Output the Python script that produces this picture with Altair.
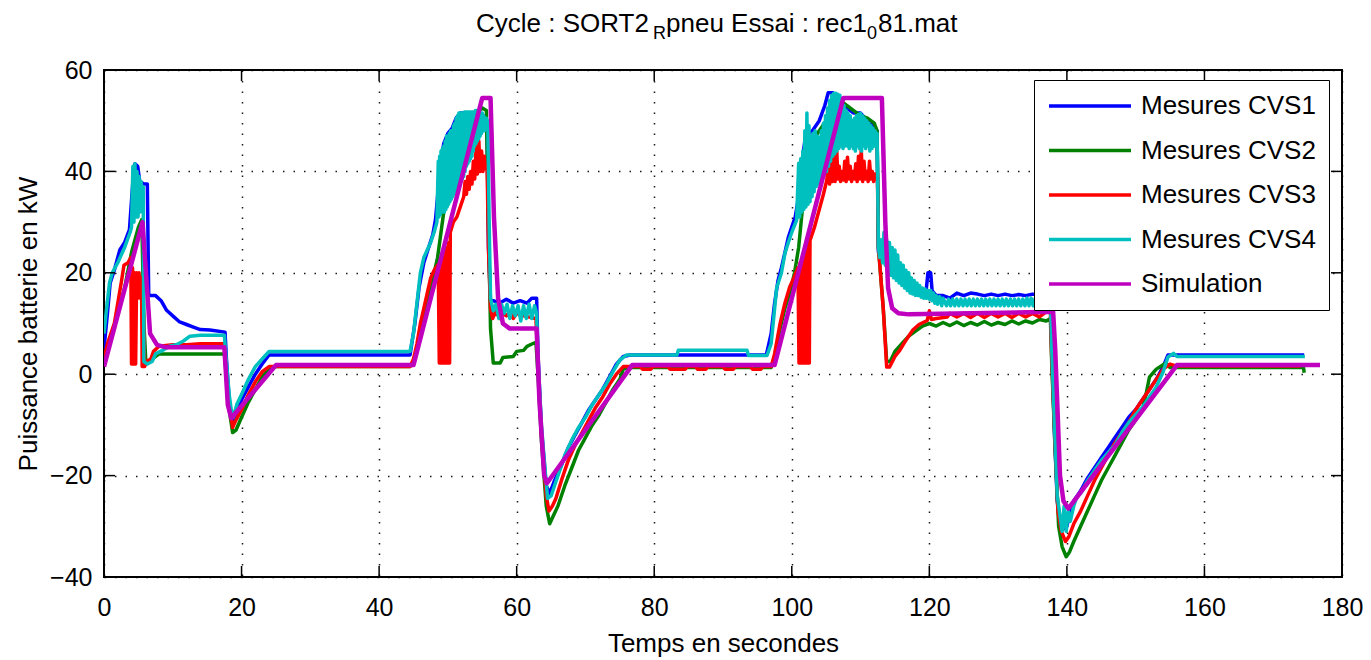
import altair as alt
import pandas as pd

FONT = "Liberation Sans"
W, H = 1238, 507

series_names = ["Mesures CVS1", "Mesures CVS2", "Mesures CVS3", "Mesures CVS4", "Simulation"]
series_colors = ["#0000FF", "#008000", "#FF0000", "#00BFBF", "#BF00BF"]
series_widths = [3.5, 3.5, 3.5, 3.5, 4.5]

x_ticks = [0, 20, 40, 60, 80, 100, 120, 140, 160, 180]
y_ticks = [-40, -20, 0, 20, 40, 60]

cvs1 = [
    (0.0, 5.0), (0.5, 12.0), (0.9, 18.0), (1.5, 20.5), (2.3, 24.5), (3.0, 26.0), (3.7, 28.5), (4.2, 38.0), (4.5, 41.5),
    (4.9, 41.0), (5.2, 38.0), (5.8, 37.5), (6.3, 37.5), (6.5, 15.5), (7.5, 15.5), (8.3, 14.5), (9.1, 12.6), (10.0, 11.5),
    (11.0, 10.3), (12.0, 9.8), (13.0, 9.3), (14.0, 8.8), (15.4, 8.7), (17.6, 8.3),
    (17.8, 3.0), (18.2, -5.0), (18.6, -9.5), (19.0, -8.5), (20.0, -5.0), (21.0, -2.5), (22.0, 0.0), (23.0, 2.0), (24.0, 3.8), (44.5, 3.8),
    (45.2, 10.0), (45.8, 17.0), (46.5, 22.0), (47.2, 25.0), (47.8, 27.5), (48.2, 30.5), (48.5, 35.0), (48.8, 41.0), (49.4, 45.5),
    (50.0, 47.5), (50.6, 48.5), (51.2, 50.5), (51.8, 51.5), (52.5, 51.5), (53.3, 51.5), (54.0, 51.0), (54.6, 51.5), (55.2, 51.0), (55.7, 48.0),
    (55.9, 25.0), (56.2, 14.5), (56.6, 14.5), (57.5, 14.0), (58.5, 14.8), (59.5, 14.0), (60.5, 14.5), (61.5, 14.0), (62.2, 15.0), (62.9, 15.0),
    (63.1, 4.0), (63.6, -11.0), (64.3, -22.0), (64.8, -23.5), (65.5, -21.0), (66.5, -18.0), (67.5, -14.5), (68.5, -12.0), (69.5, -9.5),
    (70.5, -7.0), (71.5, -5.0), (72.5, -3.0), (73.5, -0.5), (74.5, 2.0), (75.5, 3.5), (76.5, 3.8), (96.3, 3.8),
    (97.0, 8.0), (97.5, 14.0), (98.0, 18.5), (98.5, 21.0), (99.0, 24.0), (99.5, 27.0), (100.0, 29.0), (100.5, 31.0), (101.0, 35.0),
    (101.5, 42.0), (102.0, 47.0), (103.0, 48.0), (104.0, 50.0), (104.8, 53.0), (105.3, 55.5), (106.0, 55.5), (106.5, 54.0), (107.0, 53.0),
    (108.0, 52.5), (109.0, 51.5), (110.0, 51.5), (111.0, 50.0), (112.0, 49.0), (112.4, 48.0),
    (112.6, 24.0), (113.0, 26.0), (113.5, 27.0), (114.0, 24.0), (115.0, 22.0), (116.0, 20.0), (117.0, 18.5), (118.0, 17.5), (119.0, 16.0),
    (119.5, 16.0), (119.8, 20.0), (120.2, 20.0), (120.4, 16.5), (121.0, 15.5), (122.0, 15.5), (123.0, 15.0), (124.0, 16.0), (125.0, 15.5),
    (126.0, 16.0), (127.0, 15.8), (128.0, 15.5), (129.0, 15.8), (130.0, 15.5), (131.0, 15.8), (132.0, 15.5), (133.0, 15.7), (134.0, 15.5),
    (135.0, 15.8), (136.0, 15.5), (137.0, 15.8), (137.6, 16.0),
    (137.8, 5.0), (138.2, -12.0), (138.6, -25.0), (139.0, -29.0), (139.5, -30.5), (140.0, -30.0), (140.5, -27.0), (141.0, -25.0),
    (142.0, -23.0), (143.0, -20.5), (144.0, -18.5), (145.0, -16.5), (146.0, -14.5), (147.0, -12.5), (148.0, -10.5), (149.0, -8.5),
    (150.0, -7.0), (151.0, -5.0), (152.0, -3.0), (153.0, -1.0), (154.0, 1.5), (154.7, 3.8), (174.5, 3.8),
]

cvs2 = [
    (0.0, 3.0), (0.5, 5.0), (1.0, 7.5), (2.0, 12.0), (3.0, 17.0), (4.0, 24.0), (5.0, 29.0), (5.5, 30.5), (5.8, 10.0), (6.1, 2.0),
    (7.0, 3.0), (8.0, 4.0), (17.5, 4.0),
    (17.7, 1.0), (18.2, -7.0), (18.7, -11.5), (19.2, -11.0), (20.0, -8.5), (21.0, -5.5), (22.0, -3.0), (23.0, -0.5), (24.0, 1.0),
    (25.0, 1.5), (44.5, 1.5),
    (45.0, 2.5), (45.5, 5.0), (46.0, 8.5), (46.5, 11.5), (47.0, 14.5), (47.5, 17.5), (48.0, 20.0), (48.5, 23.0), (49.0, 28.0),
    (49.5, 33.0), (50.0, 38.0), (50.5, 42.0), (51.0, 45.0), (51.5, 47.0), (52.0, 49.0), (52.5, 50.0), (53.0, 51.0), (54.0, 51.5),
    (55.0, 52.5), (55.6, 52.0),
    (55.9, 30.0), (56.2, 9.0), (56.6, 2.2), (57.6, 2.2), (58.0, 3.3), (59.5, 3.5), (60.0, 4.5), (61.0, 4.7), (61.5, 5.5), (62.3, 6.0), (62.8, 6.3),
    (63.1, 0.0), (63.6, -13.0), (64.3, -26.0), (64.8, -29.5), (65.3, -28.0), (66.0, -26.0), (67.0, -22.0), (68.0, -18.5), (69.0, -15.0),
    (70.0, -12.5), (71.0, -10.0), (72.0, -8.0), (73.0, -5.5), (74.0, -3.0), (75.0, -1.0), (75.5, 1.0), (76.5, 1.3), (97.0, 1.3),
    (97.5, 3.5), (98.3, 9.0), (99.0, 13.0), (99.7, 16.0), (100.4, 20.0), (101.0, 25.0), (101.5, 32.0), (102.0, 40.0), (102.5, 44.0),
    (103.0, 45.0), (103.5, 47.0), (104.0, 48.0), (105.0, 50.0), (106.0, 52.0), (107.0, 54.0), (108.0, 53.0), (109.0, 52.0),
    (110.0, 51.0), (111.0, 50.5), (112.0, 49.5), (112.4, 48.0),
    (112.6, 25.0), (113.3, 13.0), (113.8, 2.5), (114.3, 2.5), (115.0, 4.5), (116.0, 6.0), (117.0, 7.5), (118.0, 8.5), (119.0, 9.5),
    (120.0, 10.0), (121.0, 9.5), (122.0, 10.2), (123.0, 9.6), (124.0, 10.3), (125.0, 9.6), (126.0, 10.2), (127.0, 9.7), (128.0, 10.4),
    (129.0, 9.7), (130.0, 10.2), (131.0, 9.8), (132.0, 10.5), (133.0, 9.9), (134.0, 10.5), (135.0, 10.1), (136.0, 10.8), (137.0, 10.5), (137.6, 11.0),
    (137.8, 2.0), (138.3, -15.0), (138.8, -30.0), (139.3, -34.0), (139.9, -36.0), (140.4, -35.0), (141.0, -33.0), (142.0, -30.0),
    (143.0, -27.0), (144.0, -24.0), (145.0, -21.0), (146.0, -18.5), (147.0, -16.0), (148.0, -13.5), (149.0, -11.0), (150.0, -9.0),
    (151.0, -7.0), (151.5, -4.0), (152.0, -0.6), (153.0, 1.0), (154.4, 2.2), (155.0, 1.3), (174.4, 1.3), (174.5, 0.3),
]

cvs3 = [
    (0.0, 3.0), (0.5, 6.0), (1.0, 8.0), (1.5, 10.0), (2.0, 14.0), (2.5, 18.0), (2.9, 21.5), (3.5, 22.0), (3.9, 23.0),
    (4.0, 2.0), (4.15, 21.0), (4.3, 2.0), (4.45, 20.0), (4.6, 2.0), (4.75, 20.0), (4.9, 15.0), (5.1, 20.0), (5.3, 15.0), (5.45, 19.0),
    (5.55, 1.5), (5.75, 12.0), (5.9, 1.5),
    (6.2, 2.5), (6.8, 3.0), (7.2, 4.5), (8.0, 5.5), (10.0, 5.8), (12.0, 5.8), (14.0, 6.0), (17.5, 6.0),
    (17.7, 2.0), (18.2, -6.0), (18.7, -10.5), (19.2, -9.0), (20.0, -7.0), (21.0, -4.0), (22.0, -1.5), (23.0, 0.5), (24.0, 1.5), (44.5, 1.5),
    (45.0, 3.0), (45.5, 6.0), (46.0, 10.0), (46.5, 13.0), (47.0, 16.0), (47.5, 19.0), (48.0, 20.5), (48.5, 21.5),
    (48.6, 21.0), (48.75, 2.2), (48.9, 22.0), (49.05, 2.2), (49.2, 23.0), (49.35, 2.2), (49.5, 24.0), (49.65, 2.2), (49.8, 25.0),
    (49.95, 2.2), (50.1, 26.0), (50.25, 2.2),
    (50.35, 28.0), (50.8, 30.0), (51.3, 31.0), (51.8, 33.0), (52.3, 35.0),
    (52.5, 38.0), (52.7, 35.5), (52.9, 39.0), (53.1, 36.5), (53.3, 40.0), (53.5, 37.5), (53.7, 42.0), (53.9, 38.5), (54.1, 45.0),
    (54.3, 39.5), (54.5, 46.0), (54.7, 40.0), (54.9, 44.0), (55.1, 40.0), (55.3, 43.0), (55.5, 40.5), (55.7, 41.0),
    (55.9, 25.0), (56.2, 13.0), (56.5, 11.0), (57.0, 12.5), (57.5, 11.0), (58.0, 12.0), (58.5, 11.5), (59.0, 12.3), (59.5, 11.0),
    (60.0, 12.0), (61.0, 11.5), (62.0, 11.2), (62.8, 11.0),
    (63.1, 2.0), (63.6, -12.0), (64.3, -24.0), (64.7, -27.0), (65.2, -26.0), (65.7, -24.5), (66.5, -21.0), (67.5, -17.0), (68.5, -14.0),
    (69.5, -11.5), (70.5, -9.0), (71.5, -6.5), (72.5, -4.5), (73.5, -2.0), (74.5, 0.0), (75.5, 1.5),
    (78.0, 1.5), (78.3, 1.0), (79.5, 1.0), (79.8, 1.5), (82.0, 1.5), (82.3, 1.0), (84.5, 1.0), (84.8, 1.5), (86.0, 1.5), (86.3, 1.0),
    (87.5, 1.0), (87.8, 1.5), (90.0, 1.5), (90.3, 1.0), (91.5, 1.0), (91.8, 1.5), (94.0, 1.5), (94.3, 1.0), (95.5, 1.0), (95.8, 1.5), (97.0, 1.5),
    (97.5, 4.0), (98.3, 10.0), (99.0, 14.0), (99.7, 17.2), (100.3, 19.0),
    (100.9, 21.0), (101.05, 2.2), (101.2, 22.0), (101.35, 2.2), (101.5, 23.0), (101.65, 2.2), (101.8, 24.0), (101.95, 2.2),
    (102.1, 25.0), (102.25, 2.2), (102.4, 26.0), (102.55, 2.2),
    (102.65, 26.4), (103.3, 29.0), (104.1, 33.0), (104.6, 35.5), (105.1, 38.3),
    (105.3, 42.0), (105.5, 37.5), (105.7, 43.0), (105.9, 38.0), (106.1, 44.5), (106.3, 38.0), (106.5, 45.6), (106.7, 38.5),
    (106.9, 41.0), (107.1, 38.0), (107.3, 40.0), (107.5, 38.3), (107.7, 42.0), (107.9, 38.0), (108.1, 42.8), (108.3, 38.5),
    (108.5, 41.0), (108.7, 38.0), (108.9, 40.0), (109.1, 38.5), (109.3, 41.5), (109.5, 38.0), (109.7, 43.0), (109.9, 38.5),
    (110.1, 44.2), (110.3, 38.0), (110.5, 42.0), (110.7, 38.5), (110.9, 40.0), (111.1, 38.0), (111.3, 42.0), (111.5, 38.5),
    (111.7, 40.0), (111.9, 38.0), (112.1, 39.5), (112.3, 38.5), (112.45, 39.5),
    (112.6, 25.0), (113.3, 13.0), (113.8, 1.4), (114.2, 1.4), (115.0, 3.5), (115.7, 4.7), (116.5, 6.5), (117.6, 8.7), (118.5, 9.8),
    (119.7, 10.6), (120.0, 12.5), (120.3, 10.8), (121.0, 11.0), (122.6, 11.3), (123.0, 12.0), (124.0, 11.3), (125.0, 12.0),
    (126.0, 11.2), (127.0, 12.0), (128.0, 11.2), (129.0, 12.0), (130.0, 11.3), (131.0, 12.0), (132.0, 11.2), (133.0, 12.0),
    (134.0, 11.3), (135.0, 12.0), (136.0, 11.3), (137.0, 12.3), (137.6, 12.3),
    (137.8, 3.0), (138.3, -14.0), (138.7, -27.0), (139.2, -31.0), (139.8, -33.0), (140.3, -32.0), (141.0, -29.5), (142.0, -27.0),
    (143.0, -24.0), (144.0, -21.0), (145.0, -18.5), (146.0, -16.0), (147.0, -13.5), (148.0, -11.5), (149.0, -9.5), (150.0, -7.0),
    (151.0, -5.0), (152.0, -3.0), (153.0, -1.0), (154.0, 1.0), (155.0, 2.0), (156.0, 1.6), (174.0, 1.6),
]

cvs4 = [
    (0.0, 8.0), (0.3, 12.0), (0.8, 18.0), (1.2, 20.0), (2.0, 22.0), (3.0, 25.0), (3.8, 28.0),
    (4.0, 29.0), (4.2, 41.0), (4.35, 30.0), (4.5, 41.5), (4.65, 31.0), (4.8, 40.0), (4.95, 31.0), (5.1, 39.0), (5.25, 32.0),
    (5.4, 38.0), (5.55, 33.0), (5.7, 37.0),
    (5.8, 2.5), (6.3, 2.0), (7.0, 2.5), (7.5, 4.0), (8.5, 4.7), (9.5, 5.5), (10.5, 5.8), (11.5, 6.5), (12.5, 7.5), (14.0, 7.7), (17.5, 7.7),
    (17.7, 4.0), (18.2, -4.0), (18.5, -7.0), (18.8, -8.5), (19.3, -6.0), (20.0, -4.0), (21.0, -1.0), (22.0, 1.5), (23.0, 3.0),
    (24.0, 4.5), (44.5, 4.5),
    (45.0, 8.0), (45.5, 14.0), (46.0, 20.0), (46.5, 23.0), (47.0, 24.5), (47.5, 26.0), (48.0, 28.0), (48.4, 30.0),
    (48.6, 42.0), (48.7, 31.0), (48.8, 43.0), (48.9, 31.5), (49.0, 44.0), (49.1, 32.0), (49.2, 44.5), (49.3, 32.0), (49.4, 45.0),
    (49.5, 32.0), (49.6, 46.0), (49.7, 32.5), (49.8, 47.0), (49.9, 33.0), (50.0, 47.0), (50.1, 33.5), (50.2, 47.5),
    (50.3, 34.0), (50.4, 48.0), (50.5, 34.5), (50.6, 48.0), (50.7, 35.0), (50.8, 49.0), (50.9, 35.5), (51.0, 49.5),
    (51.1, 36.0), (51.2, 50.5), (51.3, 36.5), (51.4, 51.0), (51.5, 37.0), (51.6, 51.5), (51.7, 37.5), (51.8, 51.5),
    (51.9, 38.0), (52.0, 51.5), (52.1, 38.5), (52.2, 51.5), (52.3, 39.0), (52.4, 51.7), (52.5, 40.0), (52.6, 51.7),
    (52.7, 41.0), (52.8, 51.7), (52.9, 41.5), (53.0, 51.7), (53.1, 42.0), (53.2, 51.7), (53.3, 42.5), (53.4, 51.7),
    (53.5, 43.0), (53.6, 51.7), (53.7, 44.0), (53.8, 51.7), (53.9, 45.0), (54.0, 52.0), (54.1, 45.5), (54.2, 52.0),
    (54.3, 46.0), (54.4, 51.8), (54.5, 46.5), (54.6, 51.5), (54.7, 47.0), (54.8, 51.5), (54.9, 47.5), (55.0, 51.5),
    (55.1, 48.0), (55.2, 51.0), (55.3, 48.0), (55.4, 50.5), (55.5, 48.5), (55.6, 50.5), (55.7, 49.0), (55.8, 50.0),
    (56.0, 30.0), (56.2, 15.0), (56.6, 12.5), (57.0, 13.8), (57.4, 11.0), (57.8, 13.8), (58.2, 12.0), (58.6, 13.8), (59.0, 11.0),
    (59.4, 13.5), (59.8, 11.5), (60.2, 13.5), (60.6, 10.5), (61.0, 13.5), (61.4, 11.0), (61.8, 13.8), (62.2, 11.0), (62.6, 13.5), (62.9, 12.0),
    (63.1, 3.0), (63.6, -10.0), (64.2, -20.0), (64.5, -24.5), (65.0, -24.0), (65.5, -22.0), (66.0, -20.0), (67.0, -16.0), (68.0, -13.0),
    (69.0, -10.5), (70.0, -8.5), (71.0, -6.0), (72.0, -4.0), (73.0, -2.0), (74.0, 0.5), (75.0, 2.8), (76.0, 3.8), (83.3, 3.8),
    (83.5, 4.7), (93.5, 4.7), (93.7, 3.7), (96.4, 3.7),
    (97.0, 6.0), (97.8, 17.0), (98.5, 20.0), (99.0, 23.8), (99.5, 26.0), (100.0, 28.0), (100.7, 30.4),
    (101.00, 41.6), (101.15, 31.0), (101.30, 42.5), (101.45, 32.0), (101.60, 44.0), (101.75, 32.5), (101.90, 48.0), (102.05, 33.0),
    (102.20, 51.5), (102.35, 33.5), (102.50, 49.0), (102.65, 34.0), (102.80, 47.0), (102.95, 35.0), (103.10, 47.5), (103.25, 36.0),
    (103.40, 48.0), (103.55, 37.0), (103.70, 47.0), (103.85, 37.5), (104.00, 46.7), (104.15, 38.0), (104.30, 48.0), (104.45, 39.0),
    (104.60, 49.5), (104.75, 39.5), (104.90, 51.0), (105.05, 40.0), (105.20, 52.5), (105.35, 41.0), (105.50, 54.0), (105.65, 42.0),
    (105.80, 55.0), (105.95, 43.0), (106.10, 55.4), (106.25, 43.5), (106.40, 55.4), (106.55, 44.0), (106.70, 55.2), (106.85, 44.5),
    (107.00, 55.0), (107.15, 45.0), (107.30, 54.0), (107.45, 44.5), (107.60, 53.0), (107.75, 45.0), (107.90, 52.0), (108.05, 45.0),
    (108.20, 51.4), (108.35, 44.5), (108.50, 51.0), (108.65, 45.0), (108.80, 50.0), (108.95, 44.5), (109.10, 50.5), (109.25, 44.0),
    (109.40, 51.0), (109.55, 45.0), (109.70, 51.2), (109.85, 44.5), (110.00, 51.4), (110.15, 44.0), (110.30, 51.0), (110.45, 45.0),
    (110.60, 50.5), (110.75, 44.5), (110.90, 50.0), (111.05, 45.0), (111.20, 49.5), (111.35, 44.0), (111.50, 49.0), (111.65, 44.5),
    (111.80, 48.5), (111.95, 45.0), (112.10, 48.0), (112.25, 45.0), (112.40, 47.5),
    (112.6, 25.0), (112.8, 23.0), (113.0, 26.5), (113.2, 22.0), (113.4, 28.0), (113.6, 21.5), (113.8, 26.5), (114.0, 20.5),
    (114.2, 26.0), (114.4, 19.5), (114.6, 25.0), (114.8, 19.0), (115.0, 24.5), (115.2, 18.5), (115.4, 23.5), (115.6, 18.0),
    (115.8, 22.0), (116.0, 17.5), (116.2, 21.5), (116.4, 17.0), (116.6, 20.5), (116.8, 16.5), (117.0, 20.0), (117.2, 16.0),
    (117.4, 19.0), (117.6, 15.8), (117.8, 18.5), (118.0, 15.5), (118.2, 18.0), (118.4, 15.5), (118.6, 17.5), (118.8, 15.2),
    (119.0, 17.0), (119.2, 15.0), (119.4, 16.8), (119.6, 15.0), (119.8, 16.5), (120.0, 14.8), (120.2, 16.5), (120.4, 14.5),
    (120.6, 16.0), (120.8, 14.0), (121.0, 15.5), (121.2, 13.8), (121.5, 15.3), (121.8, 13.5), (122.0, 15.0),
    (122.5, 13.5), (122.8, 14.8), (123.1, 13.5), (123.4, 14.8), (123.7, 13.5), (124.0, 14.8), (124.3, 13.5), (124.6, 14.8),
    (124.9, 13.5), (125.2, 14.8), (125.5, 13.5), (125.8, 14.8), (126.1, 13.5), (126.4, 14.8), (126.7, 13.5), (127.0, 14.8),
    (127.3, 13.5), (127.6, 14.8), (127.9, 13.5), (128.2, 14.8), (128.5, 13.5), (128.8, 14.8), (129.1, 13.5), (129.4, 14.8),
    (129.7, 13.5), (130.0, 14.8), (130.3, 13.5), (130.6, 14.8), (130.9, 13.5), (131.2, 14.8), (131.5, 13.5), (131.8, 14.8),
    (132.1, 13.5), (132.4, 14.8), (132.7, 13.5), (133.0, 14.8), (133.3, 13.5), (133.6, 14.8), (133.9, 13.5), (134.2, 15.0),
    (134.5, 13.5), (134.8, 15.0), (135.1, 13.5), (135.4, 15.0), (135.7, 13.8), (136.0, 15.0), (136.3, 13.8), (136.6, 15.0),
    (136.9, 14.0), (137.2, 15.0), (137.6, 15.0),
    (137.8, 5.0), (138.2, -10.0), (138.6, -24.0), (139.0, -28.0), (139.3, -31.0), (139.6, -26.0), (139.9, -31.0), (140.2, -27.0),
    (140.5, -29.0), (141.0, -26.0), (141.5, -24.0), (142.0, -23.5), (143.0, -21.0), (144.0, -19.0), (145.0, -17.0), (146.0, -15.5),
    (147.0, -14.0), (148.0, -11.5), (149.0, -9.5), (150.0, -8.0), (151.0, -6.5), (152.0, -4.5), (153.0, -2.5), (154.0, 0.5),
    (154.7, 3.4), (155.5, 4.1), (156.0, 3.5), (174.6, 3.5),
]

sim = [
    (0.0, 1.5), (5.6, 30.0), (6.2, 18.0), (6.7, 8.0), (7.7, 5.8), (9.0, 5.3), (17.5, 5.3), (18.0, -6.0), (18.5, -8.7), (25.0, 1.8),
    (45.0, 1.8), (55.0, 54.5), (56.2, 54.5), (56.7, 31.0), (57.3, 15.0), (58.0, 10.0), (59.0, 9.0), (62.9, 9.0), (63.3, -5.0),
    (64.0, -20.0), (64.4, -21.5), (76.8, 1.8), (97.5, 1.8), (107.5, 54.5), (113.1, 54.5), (113.6, 30.0), (114.0, 17.0),
    (114.6, 13.0), (115.5, 12.0), (117.0, 11.8), (138.0, 12.3), (138.3, 5.0), (139.0, -20.0), (139.5, -25.0), (140.2, -26.5),
    (156.0, 1.8), (176.8, 1.8),
]

all_series = [cvs1, cvs2, cvs3, cvs4, sim]

rows = []
for name, pts in zip(series_names, all_series):
    for i, (t, v) in enumerate(pts):
        rows.append({"serie": name, "t": t, "v": v, "i": i})
df = pd.DataFrame(rows)

xs = alt.Scale(domain=[0, 180], nice=False, zero=False)
ys = alt.Scale(domain=[-40, 60], nice=False, zero=False)

grid_common = dict(grid=True, gridColor="black", gridDash=[1.5, 9], gridWidth=1.5, gridOpacity=0.9,
                   ticks=False, domain=False, labelFont=FONT, labelFontSize=25, labelColor="black",
                   titleFont=FONT, titleFontSize=26, titleColor="black", titleFontWeight="normal",
                   labelFlush=False, labelOverlap=False)

x_axis = alt.Axis(values=x_ticks, title="Temps en secondes", labelPadding=18, titlePadding=10, **grid_common)
y_axis = alt.Axis(values=y_ticks, title="Puissance batterie en kW", labelPadding=12, titlePadding=8, **grid_common)

legend = alt.Legend(orient="none", legendX=930, legendY=10, title=None, symbolType="stroke", symbolSize=6724,
                    symbolStrokeWidth=3.5, clipHeight=26, rowPadding=18.5, labelFont=FONT, labelFontSize=26,
                    labelColor="black", labelOffset=8, padding=13, strokeColor="black", fillColor="white",
                    symbolOffset=0, labelLimit=400)

color = alt.Color("serie:N", scale=alt.Scale(domain=series_names, range=series_colors), legend=legend)

layers = []
for name, w in zip(series_names, series_widths):
    layers.append(
        alt.Chart(df).transform_filter(alt.datum.serie == name)
        .mark_line(strokeWidth=w, clip=True, strokeJoin="round")
        .encode(x=alt.X("t:Q", scale=xs, axis=x_axis), y=alt.Y("v:Q", scale=ys, axis=y_axis),
                color=color, order="i:Q")
    )

xt = pd.DataFrame({"t": x_ticks})
yt = pd.DataFrame({"v": y_ticks})
tick_len = 11
layers.append(alt.Chart(xt).mark_rule(color="black", strokeWidth=1.5).encode(
    x=alt.X("t:Q", scale=xs, axis=x_axis), y=alt.value(H), y2=alt.value(H - tick_len)))
layers.append(alt.Chart(xt).mark_rule(color="black", strokeWidth=1.5).encode(
    x=alt.X("t:Q", scale=xs, axis=x_axis), y=alt.value(0), y2=alt.value(tick_len)))
layers.append(alt.Chart(yt).mark_rule(color="black", strokeWidth=1.5).encode(
    y=alt.Y("v:Q", scale=ys, axis=y_axis), x=alt.value(0), x2=alt.value(tick_len)))
layers.append(alt.Chart(yt).mark_rule(color="black", strokeWidth=1.5).encode(
    y=alt.Y("v:Q", scale=ys, axis=y_axis), x=alt.value(W), x2=alt.value(W - tick_len)))


def txt(s, x, y, size):
    return alt.Chart(pd.DataFrame({"s": [s]})).mark_text(
        align="left", baseline="alphabetic", font=FONT, fontSize=size, color="black"
    ).encode(text="s:N", x=alt.value(x), y=alt.value(y))


title_main = 26
title_sub = 18
# title pieces laid out left to right (plot-area pixel offsets)
layers += [
    txt("Cycle : SORT2", 372, -38, title_main),
    txt("R", 549, -31.5, title_sub),
    txt("pneu Essai : rec1", 562, -38, title_main),
    txt("0", 763, -31.5, title_sub),
    txt("81.mat", 774, -38, title_main),
]

chart = alt.layer(*layers).properties(
    width=W, height=H,
    padding={"left": 104, "top": 70, "right": 29, "bottom": 83},
    autosize=alt.AutoSizeParams(type="none"),
).configure_view(stroke="black", strokeWidth=2)

chart.save("out.html", embed_options={"renderer": "svg", "actions": False})
